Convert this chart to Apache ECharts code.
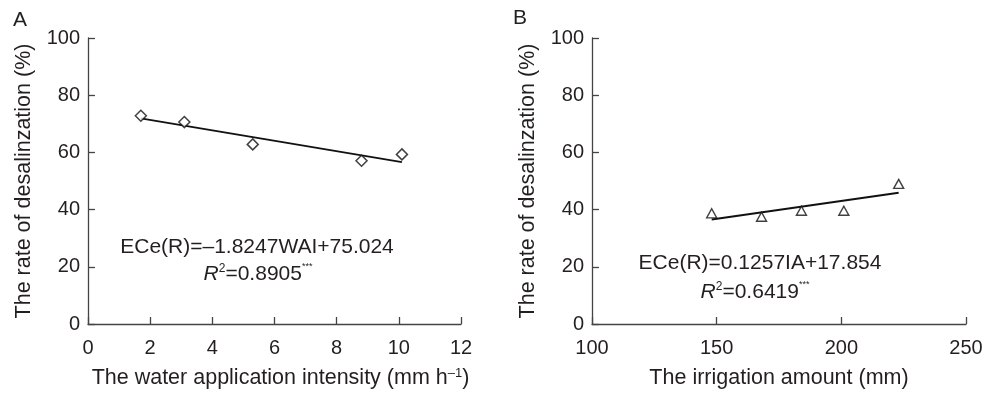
<!DOCTYPE html>
<html>
<head>
<meta charset="utf-8">
<script src="https://cdn.jsdelivr.net/npm/echarts@6/dist/echarts.min.js"></script>
<style>html,body{margin:0;padding:0;background:#fff;}#c{width:986px;height:395px;}</style>
</head>
<body>
<div id="c"></div>
<script>
// Panel A data
const waiX = [1.7, 3.1, 5.3, 8.8, 10.1];
const desalA = [72.8, 70.6, 62.8, 57.1, 59.3];
const fitA = [[1.7, 71.9], [10.1, 56.6]];
// Panel B data
const iaX = [148, 168, 184, 201, 223];
const desalB = [38.7, 37.5, 39.6, 39.6, 49.0];
const fitB = [[148, 36.5], [223, 45.9]];
// Axis ticks
const yTicks = [0, 20, 40, 60, 80, 100];
const xTicksA = [0, 2, 4, 6, 8, 10, 12];
const xTicksB = [100, 150, 200, 250];

const FONT = "'Liberation Sans', Arial, sans-serif";
const TXT = '#231f20';
const AX = '#444';
const NF = 21.5;

function pairs(xs, ys) { return xs.map((x, i) => [x, ys[i]]); }

const axisCommon = {
  axisLine: { show: true, lineStyle: { color: AX, width: 1.3 } },
  axisTick: { show: true, inside: true, length: 7, lineStyle: { color: AX, width: 1.3 } },
  splitLine: { show: false },
  axisLabel: { color: TXT, fontFamily: FONT, fontSize: 20 },
  nameTextStyle: { color: TXT, fontFamily: FONT, fontSize: NF }
};

function yAxis(gi) {
  return Object.assign({}, axisCommon, {
    type: 'value', gridIndex: gi, min: yTicks[0], max: yTicks[yTicks.length - 1], interval: 20,
    name: 'The rate of desalinzation (%)', nameLocation: 'middle', nameGap: 53, nameRotate: 90,
    axisLabel: Object.assign({}, axisCommon.axisLabel, { margin: 8 })
  });
}

const supRich = {
  sup: { fontSize: 13, fontFamily: FONT, color: TXT, verticalAlign: 'top', lineHeight: 13 },
  base: { fontSize: NF, fontFamily: FONT, color: TXT, lineHeight: 23 }
};

function r2Rich() {
  return {
    i: { fontSize: 21, fontFamily: FONT, fontStyle: 'italic', fill: TXT, lineHeight: 23 },
    base: { fontSize: 21, fontFamily: FONT, fill: TXT, lineHeight: 23 },
    sup: { fontSize: 12, fontFamily: FONT, fill: TXT, verticalAlign: 'top', lineHeight: 12 },
    st: { fontSize: 9, fontFamily: FONT, fill: TXT, verticalAlign: 'top', lineHeight: 9 }
  };
}

const option = {
  backgroundColor: '#fff',
  animation: false,
  textStyle: { fontFamily: FONT },
  grid: [
    { left: 88, top: 38, width: 373, height: 286 },
    { left: 592, top: 38, width: 374, height: 286 }
  ],
  xAxis: [
    Object.assign({}, axisCommon, {
      type: 'value', gridIndex: 0, min: xTicksA[0], max: xTicksA[xTicksA.length - 1], interval: 2,
      name: '{base|The water application intensity (mm h}{sup|–1}{base|)}',
      nameLocation: 'middle', nameGap: 43,
      nameTextStyle: Object.assign({}, axisCommon.nameTextStyle, { rich: supRich, padding: [0, 0, 0, 12] }),
      axisLabel: Object.assign({}, axisCommon.axisLabel, { margin: 14 })
    }),
    Object.assign({}, axisCommon, {
      type: 'value', gridIndex: 1, min: xTicksB[0], max: xTicksB[xTicksB.length - 1], interval: 50,
      name: 'The irrigation amount (mm)',
      nameLocation: 'middle', nameGap: 43,
      axisLabel: Object.assign({}, axisCommon.axisLabel, { margin: 14 })
    })
  ],
  yAxis: [yAxis(0), yAxis(1)],
  series: [
    {
      type: 'line', xAxisIndex: 0, yAxisIndex: 0, data: fitA, showSymbol: false, symbol: 'none',
      lineStyle: { color: '#111', width: 2 }, z: 2
    },
    {
      type: 'scatter', xAxisIndex: 0, yAxisIndex: 0, data: pairs(waiX, desalA),
      symbol: 'diamond', symbolSize: [11, 11],
      itemStyle: { color: '#fff', borderColor: '#111', borderWidth: 1.5 }, z: 3
    },
    {
      type: 'line', xAxisIndex: 1, yAxisIndex: 1, data: fitB, showSymbol: false, symbol: 'none',
      lineStyle: { color: '#111', width: 2 }, z: 2
    },
    {
      type: 'scatter', xAxisIndex: 1, yAxisIndex: 1, data: pairs(iaX, desalB),
      symbol: 'triangle', symbolSize: [10, 9],
      itemStyle: { color: '#fff', borderColor: '#111', borderWidth: 1.4 }, z: 3
    }
  ],
  graphic: [
    { type: 'text', left: 13, top: 10, style: { text: 'A', font: '21px ' + FONT, fill: TXT } },
    { type: 'text', left: 513, top: 8, style: { text: 'B', font: '21px ' + FONT, fill: TXT } },
    { type: 'text', x: 257, y: 247, style: { text: 'ECe(R)=–1.8247WAI+75.024', font: '21px ' + FONT, fill: TXT, align: 'center', verticalAlign: 'middle' } },
    { type: 'text', x: 258, y: 274, style: { text: '{i|R}{sup|2}{base|=0.8905}{st|***}', align: 'center', verticalAlign: 'middle', rich: r2Rich() } },
    { type: 'text', x: 760, y: 263, style: { text: 'ECe(R)=0.1257IA+17.854', font: '21px ' + FONT, fill: TXT, align: 'center', verticalAlign: 'middle' } },
    { type: 'text', x: 755, y: 292, style: { text: '{i|R}{sup|2}{base|=0.6419}{st|***}', align: 'center', verticalAlign: 'middle', rich: r2Rich() } }
  ]
};

const chart = echarts.init(document.getElementById('c'), null, { renderer: 'canvas' });
chart.setOption(option);
</script>
</body>
</html>
